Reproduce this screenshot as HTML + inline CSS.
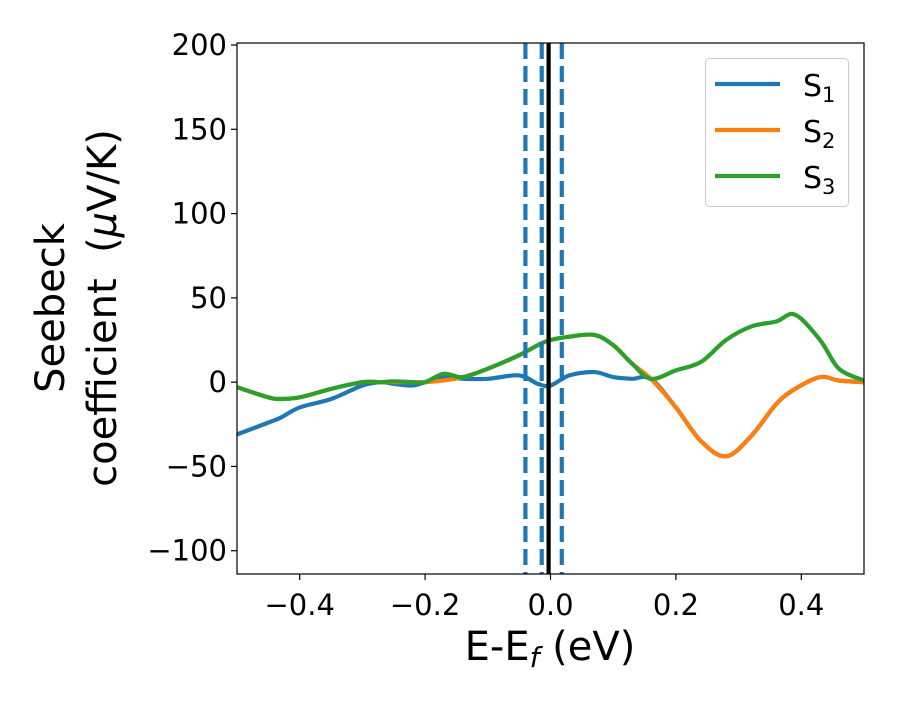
<!DOCTYPE html>
<html><head><meta charset="utf-8"><style>
body{margin:0;background:#fff}
svg text{font-family:"DejaVu Sans","Liberation Sans",sans-serif;fill:#000}
</style></head><body>
<svg id="chart" width="900" height="700" xmlns="http://www.w3.org/2000/svg">
<rect width="900" height="700" fill="#fff"/>
<g id="plot"></g>
<g id="axes"></g>
</svg>
<script>
const xs = [-0.5,-0.45,-0.43,-0.4,-0.35,-0.3,-0.27,-0.25,-0.22,-0.2,-0.17,-0.14,-0.1,-0.05,-0.02,0.0,0.03,0.07,0.1,0.13,0.16,0.2,0.24,0.28,0.32,0.36,0.39,0.43,0.46,0.5];
const s1 = [-31,-24,-21,-15,-10,-2,0,-1,-2,0,3,2,2,4,-1,-2,4,6,3,2,2,-15,-35,-44,-32,-13,-4,3,1,0];
const s2 = [-3,-9,-10,-9,-4,0,0,0,0,0,1,3,8,16,22,25,27,28,22,11,2,-15,-35,-44,-32,-13,-4,3,1,0];
const s3 = [-3,-9,-10,-9,-4,0,0,0.5,0,0,5,3,8,16,22,25,27,28,22,11,2,7,12,25,33,36,40,25,8,1];
const vlinesDashed = [-0.040,-0.014,0.018];
const vlineSolid = [-0.003];
const xTicks = [-0.4,-0.2,0.0,0.2,0.4];
const xTickLabels = ["\u22120.4","\u22120.2","0.0","0.2","0.4"];
const yTicks = [-100,-50,0,50,100,150,200];
const yTickLabels = ["\u2212100","\u221250","0","50","100","150","200"];
const seriesNames = ["S1","S2","S3"];

const L=237,R=864,T=43,B=574, X0=-0.5,X1=0.5,Y0=-113.8,Y1=201.2;
const X=v=>L+(v-X0)/(X1-X0)*(R-L);
const Y=v=>B-(v-Y0)/(Y1-Y0)*(B-T);
const NS="http://www.w3.org/2000/svg";
function mk(tag,attrs,parent){const e=document.createElementNS(NS,tag);for(const k in attrs)e.setAttribute(k,attrs[k]);parent.appendChild(e);return e;}
function smooth(ys){
  const p=xs.map((x,i)=>[X(x),Y(ys[i])]);
  let d=`M${p[0][0]},${p[0][1]}`;
  for(let i=0;i<p.length-1;i++){
    const p0=p[Math.max(0,i-1)],p1=p[i],p2=p[i+1],p3=p[Math.min(p.length-1,i+2)];
    const c1=[p1[0]+(p2[0]-p0[0])/6,p1[1]+(p2[1]-p0[1])/6];
    const c2=[p2[0]-(p3[0]-p1[0])/6,p2[1]-(p3[1]-p1[1])/6];
    d+=`C${c1[0]},${c1[1]} ${c2[0]},${c2[1]} ${p2[0]},${p2[1]}`;
  }
  return d;
}
const plot=document.getElementById('plot');
const axes=document.getElementById('axes');
const cp=mk('clipPath',{id:'clip'},plot);
mk('rect',{x:L,y:T,width:R-L,height:B-T},cp);
const colors=['#1f77b4','#ff7f0e','#2ca02c'];
[s1,s2,s3].forEach((s,i)=>{
  const p=mk('path',{d:smooth(s),fill:'none',stroke:colors[i],'stroke-width':4.2,'clip-path':'url(#clip)'},plot);
  
  
});
vlinesDashed.forEach(v=>{
  const l=mk('line',{x1:X(v),x2:X(v),y1:T,y2:B,stroke:'#1f77b4','stroke-width':4.2,'stroke-dasharray':'16,7'},plot);
  
  
});
vlineSolid.forEach(v=>{
  const l=mk('line',{x1:X(v),x2:X(v),y1:T,y2:B,stroke:'#000','stroke-width':4.2},plot);
  
  
});
const frame=mk('rect',{x:L,y:T,width:R-L,height:B-T,fill:'none',stroke:'#000','stroke-width':1.2},axes);


xTicks.forEach((v,i)=>{
  mk('line',{x1:X(v),x2:X(v),y1:B,y2:B+6,stroke:'#000','stroke-width':1.2},axes);
  const t=mk('text',{x:X(v),y:B+41,'text-anchor':'middle','font-size':29},axes);
  t.textContent=xTickLabels[i];
  
  
});
yTicks.forEach((v,i)=>{
  mk('line',{x1:L-6,x2:L,y1:Y(v),y2:Y(v),stroke:'#000','stroke-width':1.2},axes);
  const t=mk('text',{x:L-10,y:Y(v)+10,'text-anchor':'end','font-size':29},axes);
  t.textContent=yTickLabels[i];
  
  
});
</script>
<svg style="position:absolute;left:0;top:0" width="900" height="700" xmlns="http://www.w3.org/2000/svg">
<text x="550" y="660" text-anchor="middle" font-size="40" font-family="DejaVu Sans, sans-serif">E-E<tspan font-style="italic" font-size="28" dy="7">f</tspan><tspan dy="-7"> (eV)</tspan></text>
<g transform="translate(0,308) rotate(-90)" font-size="40" font-family="DejaVu Sans, sans-serif">
<text x="0" y="64" text-anchor="middle">Seebeck</text>
<text x="0" y="116" text-anchor="middle" xml:space="preserve">coefficient  (<tspan font-style="italic">μ</tspan>V/K)</text>
</g>
<g>
<rect x="705.5" y="58.5" width="143" height="148" rx="4" fill="#fff" fill-opacity="0.8" stroke="#ccc"/>
<g><line x1="715" x2="780" y1="84" y2="84" stroke="#1f77b4" stroke-width="4.2"/><text x="803" y="96" font-size="30" font-family="DejaVu Sans, sans-serif">S<tspan font-size="21" dy="6">1</tspan></text></g>
<g><line x1="715" x2="780" y1="130" y2="130" stroke="#ff7f0e" stroke-width="4.2"/><text x="803" y="142" font-size="30" font-family="DejaVu Sans, sans-serif">S<tspan font-size="21" dy="6">2</tspan></text></g>
<g><line x1="715" x2="780" y1="176" y2="176" stroke="#2ca02c" stroke-width="4.2"/><text x="803" y="188" font-size="30" font-family="DejaVu Sans, sans-serif">S<tspan font-size="21" dy="6">3</tspan></text></g>
</g>
</svg>
</body></html>
